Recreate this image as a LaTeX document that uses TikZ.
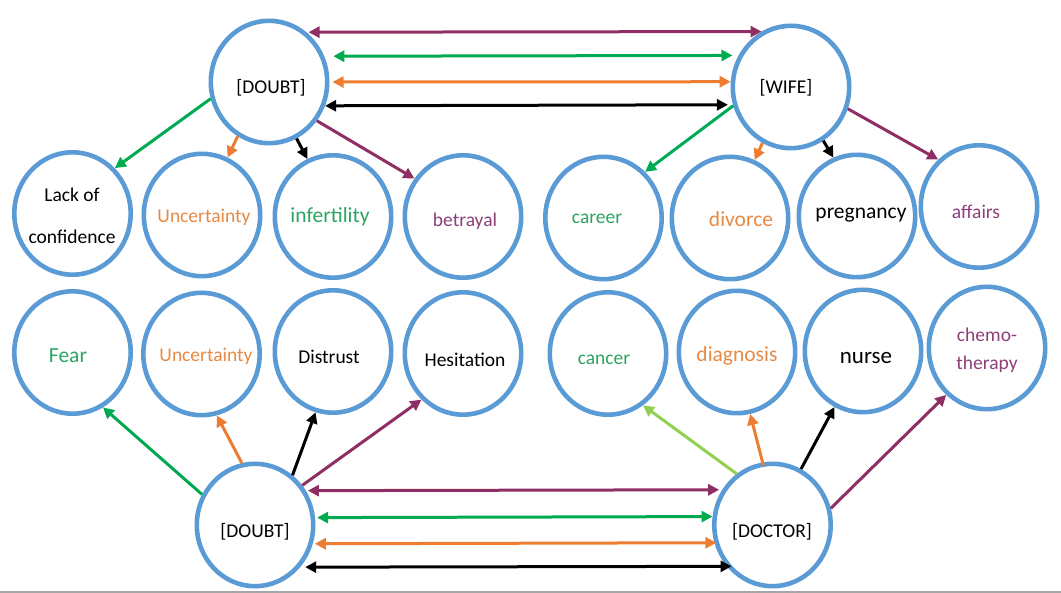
\documentclass[tikz,border=0pt]{standalone}
\usepackage{fontspec}
\setmainfont{Carlito}
\usetikzlibrary{arrows.meta,shapes.geometric}

\definecolor{ringblue}{HTML}{5B9BD5}
\definecolor{lnkgreen}{HTML}{00AA50}
\definecolor{lnklime}{HTML}{92D050}
\definecolor{lnkorange}{HTML}{ED7D31}
\definecolor{lnkpurple}{HTML}{8E2E63}
\definecolor{txtgreen}{HTML}{2CA462}
\definecolor{txtorange}{HTML}{E68A45}
\definecolor{txtpurple}{HTML}{8E3F7A}

\tikzset{
  bub/.style={ellipse, draw=ringblue, line width=4.6pt, fill=white,
    minimum width=116.4pt, minimum height=122.4pt, inner sep=0pt},
  lbl/.style={font=\fontsize{19.5}{24}\selectfont, inner sep=0pt, text=black},
  big/.style={font=\fontsize{21.5}{26}\selectfont},
  lnk/.style={line width=3pt, -{Triangle[length=11pt,width=11pt]}},
  bi/.style={line width=3pt, {Triangle[length=11pt,width=11pt]}-{Triangle[length=11pt,width=11pt]}},
}

\begin{document}
\begin{tikzpicture}[x=1pt,y=-1pt]
\useasboundingbox (0,0) rectangle (1061,593);
\fill[gray!70] (0,590.5) rectangle (1061,593);

% hub bubbles
\node[bub] (t1) at (269,82) {};
\node[bub] (w)  at (791,87) {};
\node[bub] (b1) at (255,525) {};
\node[bub] (dr) at (772.5,525) {};

% upper row
\node[bub] (a1) at (72.5,213.5) {};
\node[bub] (a2) at (202,215) {};
\node[bub] (a3) at (333,216.5) {};
\node[bub] (a4) at (463,216.5) {};
\node[bub] (e1) at (603.5,218) {};
\node[bub] (e2) at (730,218) {};
\node[bub] (e3) at (857,216) {};
\node[bub] (e4) at (979,206.5) {};

% lower row
\node[bub] (c1) at (72.5,352.5) {};
\node[bub] (c2) at (201.5,354) {};
\node[bub] (c3) at (333,351.5) {};
\node[bub] (c4) at (463,353.5) {};
\node[bub] (d1) at (608,353.5) {};
\node[bub] (d2) at (737,352) {};
\node[bub] (d3) at (863,351) {};
\node[bub] (d4) at (987,348) {};

% labels
\node[lbl] (t1t) at (271,88) {[DOUBT]};
\node[lbl] (wt) at (786,88) {[WIFE]};
\node[lbl] (b1t) at (255,532) {[DOUBT]};
\node[lbl] (drt) at (772,532) {[DOCTOR]};

\node[lbl] (a1t) at (72,195) {Lack of};
\node[lbl] (a1u) at (72,237) {confidence};
\node[lbl, text=txtorange] (a2t) at (204,217) {Uncertainty};
\node[lbl, big, text=txtgreen] (a3t) at (330,217) {infertility};
\node[lbl, text=txtpurple] (a4t) at (465,221) {betrayal};
\node[lbl, text=txtgreen] (e1t) at (597,219) {career};
\node[lbl, big, text=txtorange] (e2t) at (741,219) {divorce};
\node[lbl, big] (e3t) at (861,215) {pregnancy};
\node[lbl, text=txtpurple] (e4t) at (976,212) {affairs};

\node[lbl, big, text=txtgreen] (c1t) at (68,356) {Fear};
\node[lbl, text=txtorange] (c2t) at (206,356) {Uncertainty};
\node[lbl] (c3t) at (329,357) {Distrust};
\node[lbl] (c4t) at (465,360) {Hesitation};
\node[lbl, text=txtgreen] (d1t) at (604,360) {cancer};
\node[lbl, big, text=txtorange] (d2t) at (737,356) {diagnosis};
\node[lbl, font=\fontsize{23}{27}\selectfont] (d3t) at (866,358) {nurse};
\node[lbl, text=txtpurple] (d4t) at (987,335) {chemo-};
\node[lbl, text=txtpurple] (d4u) at (987,364) {therapy};

% links between the two upper hubs
\draw[bi, lnkpurple, shorten <=2pt] (t1.53.3) -- (w.118.8);
\draw[bi, lnkgreen, shorten <=9pt, shorten >=6pt] (t1.25.2) -- (w.149.6);
\draw[bi, lnkorange, shorten <=3pt] (t1.0) -- (w.175.3);
\draw[bi, black, shorten >=5pt] (t1.337.8) -- (w.197.2);

% links between the two lower hubs
\draw[bi, lnkpurple, shorten <=2pt, shorten >=3pt] (b1.34.7) -- (dr.145.3);
\draw[bi, lnkgreen, shorten <=2pt] (b1.7.6) -- (dr.172.4);
\draw[bi, lnkorange, shorten <=2pt, shorten >=-2pt] (b1.342.8) -- (dr.197.2);
\draw[bi, black, shorten <=5pt, shorten >=-5pt] (b1.317.2) -- (dr.222.8);

% [DOUBT] (upper) fan-out
\draw[lnk, lnkgreen] (t1.196.7) -- (a1.47.6);
\draw[lnk, lnkorange] (t1.240.4) -- (a2.66.2);
\draw[lnk, black] (t1.296.6) -- (a3.114.1);
\draw[lnk, lnkpurple] (t1.321.9) -- (a4.142.2);

% [WIFE] fan-out
\draw[lnk, lnkgreen] (w.198.4) -- (e1.48.6);
\draw[lnk, lnkorange] (w.243.4) -- (e2.67.9);
\draw[lnk, black] (w.301.1) -- (e3.112.96);
\draw[lnk, lnkpurple] (w.339.6) -- (e4.131.6);

% [DOUBT] (lower) fan-out
\draw[lnk, lnkgreen] (b1.150.4) -- (c1.299.4);
\draw[lnk, lnkorange] (b1.102.2) -- (c2.284.7);
\draw[lnk, black] (b1.53.6) -- (c3.254.5);
\draw[lnk, lnkpurple] (b1.40.5) -- (c4.228.5);

% [DOCTOR] fan-out
\draw[lnk, lnklime] (dr.125.4) -- (d1.304.2);
\draw[lnk, lnkorange, shorten <=-3pt] (dr.99.7) -- (d2.282.8);
\draw[lnk, black] (dr.63.8) -- (d3.243.1);
\draw[lnk, lnkpurple] (dr.16.8) -- (d4.229.7);
\end{tikzpicture}
\end{document}
